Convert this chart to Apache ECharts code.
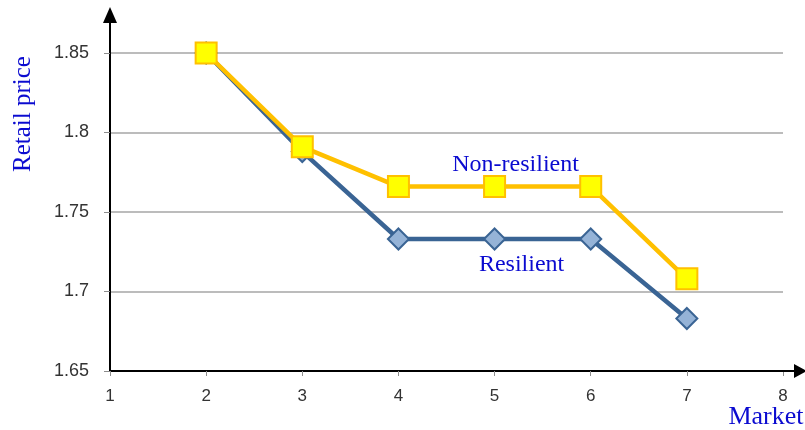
<!DOCTYPE html>
<html>
<head>
<meta charset="utf-8">
<script src="https://cdn.jsdelivr.net/npm/echarts@6/dist/echarts.min.js"></script>
<style>
  html, body { margin: 0; padding: 0; background: #fff; }
  #chart { width: 805px; height: 430px; }
</style>
</head>
<body>
<div id="chart"></div>
<script>
// Markets on the horizontal axis
const markets = [2, 3, 4, 5, 6, 7];
// Retail price per market
const resilient = [1.85, 1.788, 1.733, 1.733, 1.733, 1.683];
const nonResilient = [1.85, 1.791, 1.766, 1.766, 1.766, 1.708];
// Tick labels
const xTicks = [1, 2, 3, 4, 5, 6, 7, 8];
const yTicks = [1.65, 1.7, 1.75, 1.8, 1.85];
// Market where the series names are written next to the lines
const labelMarket = 5;

const blueText = '#0b0bd0';
const serif = '"Liberation Serif", "Times New Roman", serif';

// Arrow heads with a short shaft, so the axis line runs past its last tick
const yArrow = 'path://M7,0 L14,16 L8,16 L8,46 L6,46 L6,16 L0,16 Z';
const xArrow = 'path://M7,0 L14,13 L8,13 L8,24 L6,24 L6,13 L0,13 Z';

function pairs(values, labelCfg) {
  return markets.map((m, i) => {
    const item = { value: [m, values[i]] };
    if (m === labelMarket && labelCfg) item.label = labelCfg;
    return item;
  });
}

const chart = echarts.init(document.getElementById('chart'), null, { renderer: 'canvas' });

chart.setOption({
  animation: false,
  backgroundColor: '#ffffff',
  grid: { left: 110, right: 22, top: 53, bottom: 59, containLabel: false },
  xAxis: {
    type: 'value',
    min: 1,
    max: 8,
    interval: 1,
    axisLine: {
      onZero: false,
      lineStyle: { color: '#000', width: 2 },
      symbol: ['none', xArrow],
      symbolSize: [14, 24],
      symbolOffset: [0, 12]
    },
    axisTick: { show: true, length: 5, lineStyle: { color: '#8c8c8c', width: 1 } },
    axisLabel: {
      customValues: xTicks,
      color: '#333',
      fontSize: 17,
      fontFamily: '"Liberation Sans", Arial, sans-serif',
      margin: 17
    },
    splitLine: { show: false }
  },
  yAxis: {
    type: 'value',
    min: 1.65,
    max: 1.85,
    interval: 0.05,
    axisLine: {
      show: true,
      onZero: false,
      lineStyle: { color: '#000', width: 2 },
      symbol: ['none', yArrow],
      symbolSize: [14, 46],
      symbolOffset: [0, 23]
    },
    axisTick: { show: true, length: 6, lineStyle: { color: '#8c8c8c', width: 1 } },
    axisLabel: {
      customValues: yTicks,
      formatter: v => String(+v.toFixed(2)),
      color: '#333',
      fontSize: 18,
      fontFamily: '"Liberation Sans", Arial, sans-serif',
      margin: 21
    },
    splitLine: { show: true, showMinLine: false, lineStyle: { color: '#a6a6a6', width: 1.5 } }
  },
  series: [
    {
      name: 'Resilient',
      type: 'line',
      data: pairs(resilient, {
        show: true,
        formatter: 'Resilient',
        position: 'inside',
        offset: [27, 26],
        color: blueText,
        fontFamily: serif,
        fontSize: 24
      }),
      symbol: 'diamond',
      symbolSize: 21,
      lineStyle: { color: '#3a6494', width: 4.5 },
      itemStyle: { color: '#95b3d7', borderColor: '#3a6494', borderWidth: 2 },
      label: { show: false },
      z: 2
    },
    {
      name: 'Non-resilient',
      type: 'line',
      data: pairs(nonResilient, {
        show: true,
        formatter: 'Non-resilient',
        position: 'inside',
        offset: [21, -22],
        color: blueText,
        fontFamily: serif,
        fontSize: 24
      }),
      symbol: 'rect',
      symbolSize: 21,
      lineStyle: { color: '#ffc000', width: 4.5 },
      itemStyle: { color: '#ffff00', borderColor: '#ffc000', borderWidth: 2 },
      label: { show: false },
      z: 3
    }
  ],
  graphic: [
    {
      type: 'text',
      x: 23,
      y: 114,
      rotation: Math.PI / 2,
      style: {
        text: 'Retail price',
        fill: blueText,
        font: '25px ' + serif,
        align: 'center',
        verticalAlign: 'middle'
      }
    },
    {
      type: 'text',
      x: 766,
      y: 417,
      style: {
        text: 'Market',
        fill: blueText,
        font: '26px ' + serif,
        align: 'center',
        verticalAlign: 'middle'
      }
    }
  ]
});
</script>
</body>
</html>
